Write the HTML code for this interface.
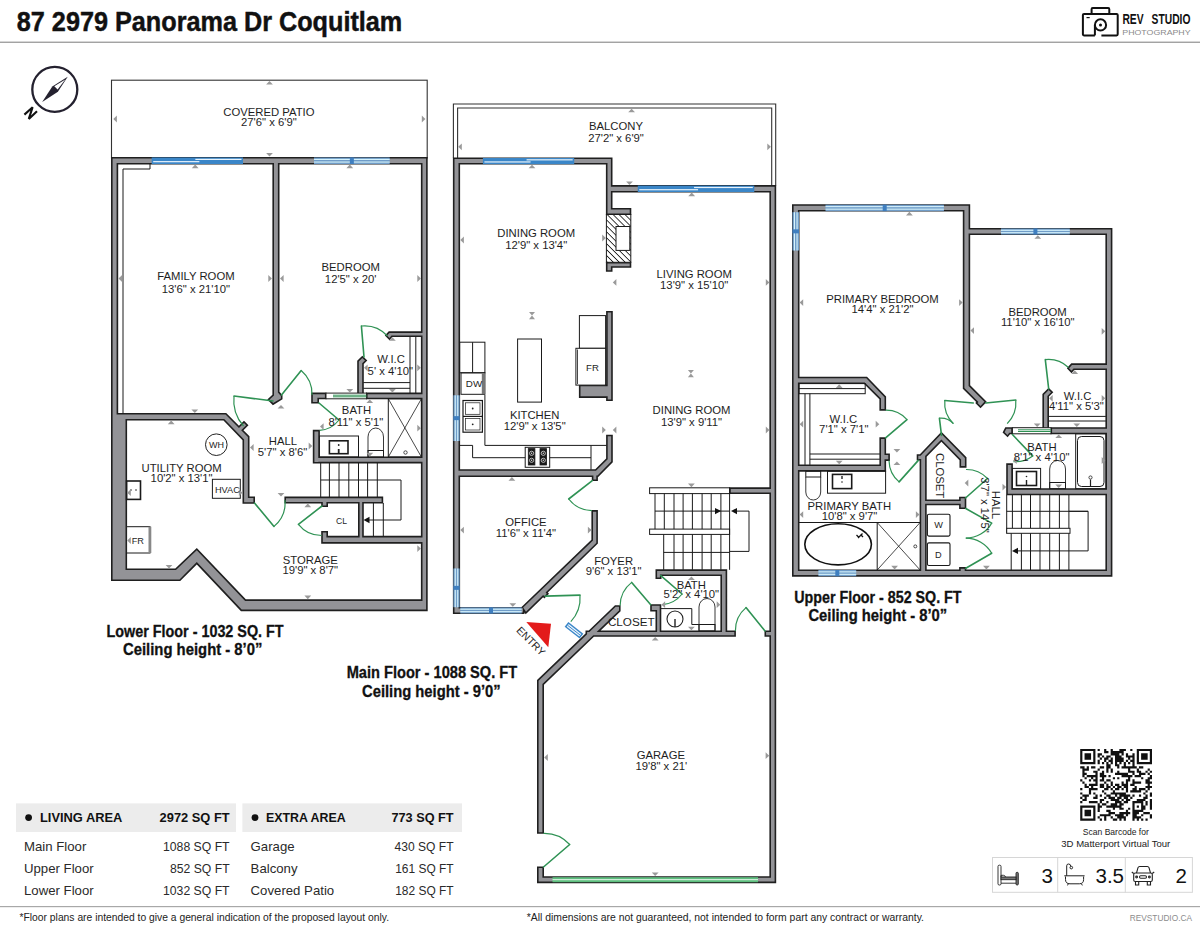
<!DOCTYPE html>
<html><head><meta charset="utf-8"><title>87 2979 Panorama Dr Coquitlam</title>
<style>
html,body{margin:0;padding:0;background:#fff;}
body{width:1200px;height:929px;position:relative;overflow:hidden;font-family:"Liberation Sans",sans-serif;}
</style></head><body>
<svg width="1200" height="929" viewBox="0 0 1200 929" style="position:absolute;left:0;top:0" font-family="Liberation Sans, sans-serif"><rect x="0" y="41.6" width="1200" height="1.3" fill="#9a9a9a"/><g transform="translate(0 0.8)"><g fill="none" stroke="#111" stroke-width="2" stroke-linejoin="round"><path d="M1091.6,12.3 V8.4 Q1091.6,7.3 1092.7,7.3 H1108.2 Q1109.3,7.3 1109.3,8.4 V12.3"/><path d="M1094.9,34.6 H1084 Q1082.9,34.6 1082.9,33.5 V14.2 Q1082.9,13.1 1084,13.1 H1116.6 Q1117.7,13.1 1117.7,14.2 V33.5 Q1117.7,34.6 1116.6,34.6 H1101.4"/><path d="M1094.9,34.6 V24.2"/><circle cx="1100.5" cy="24.1" r="5.6"/></g><circle cx="1100.5" cy="24.1" r="1.5" fill="#111"/><rect x="1086.5" y="16.2" width="3.2" height="1.2" fill="#111"/></g><circle cx="54.8" cy="89.4" r="22.5" fill="none" stroke="#24212f" stroke-width="2.3"/><polygon points="67.7,76.8 52.3,86.6 42.2,102 57.9,91.8" fill="#24212f"/><polygon points="65.3,79.4 54.3,86.3 57.6,89.6" fill="#fff"/><polyline points="24.4,114.6 32.6,107.2 28.8,118.9 37,111.2" fill="none" stroke="#111" stroke-width="2.1" stroke-linejoin="miter" stroke-miterlimit="3"/><rect x="111.5" y="80.2" width="315.7" height="77.8" rx="0" stroke="#333" stroke-width="1.1" fill="none"/><polyline points="453.4,158 453.4,104 775.7,104 775.7,185.6" stroke="#333" stroke-width="1.1" fill="none"/><polyline points="457.6,158 457.6,108 771.7,108 771.7,185.6" stroke="#333" stroke-width="1.1" fill="none"/><defs><pattern id="hatch" patternUnits="userSpaceOnUse" width="4.2" height="4.2" patternTransform="rotate(-45)"><rect width="4.2" height="4.2" fill="#fff"/><line x1="0" y1="0" x2="0" y2="4.2" stroke="#111" stroke-width="1.6"/></pattern></defs><rect x="16" y="803.4" width="220" height="28.6" fill="#ececec"/><rect x="242.4" y="803.4" width="219.6" height="28.6" fill="#ececec"/><circle cx="28.6" cy="817.6" r="3.4" fill="#111"/><circle cx="255" cy="817.6" r="3.4" fill="#111"/><rect x="0" y="906" width="1200" height="1.2" fill="#a8a8a8"/><path d="M1080.2,748.9h15.23v2.18h-15.23zM1097.61,748.9h2.18v2.18h-2.18zM1104.13,748.9h2.18v2.18h-2.18zM1110.66,748.9h2.18v2.18h-2.18zM1119.36,748.9h6.53v2.18h-6.53zM1130.24,748.9h2.18v2.18h-2.18zM1136.77,748.9h15.23v2.18h-15.23zM1080.2,751.08h2.18v2.18h-2.18zM1093.25,751.08h2.18v2.18h-2.18zM1104.13,751.08h4.35v2.18h-4.35zM1110.66,751.08h13.05v2.18h-13.05zM1136.77,751.08h2.18v2.18h-2.18zM1149.82,751.08h2.18v2.18h-2.18zM1080.2,753.25h2.18v2.18h-2.18zM1084.55,753.25h6.53v2.18h-6.53zM1093.25,753.25h2.18v2.18h-2.18zM1097.61,753.25h4.35v2.18h-4.35zM1110.66,753.25h8.7v2.18h-8.7zM1121.54,753.25h2.18v2.18h-2.18zM1125.89,753.25h2.18v2.18h-2.18zM1132.42,753.25h2.18v2.18h-2.18zM1136.77,753.25h2.18v2.18h-2.18zM1141.12,753.25h6.53v2.18h-6.53zM1149.82,753.25h2.18v2.18h-2.18zM1080.2,755.43h2.18v2.18h-2.18zM1084.55,755.43h6.53v2.18h-6.53zM1093.25,755.43h2.18v2.18h-2.18zM1097.61,755.43h2.18v2.18h-2.18zM1101.96,755.43h2.18v2.18h-2.18zM1106.31,755.43h4.35v2.18h-4.35zM1115.01,755.43h6.53v2.18h-6.53zM1125.89,755.43h8.7v2.18h-8.7zM1136.77,755.43h2.18v2.18h-2.18zM1141.12,755.43h6.53v2.18h-6.53zM1149.82,755.43h2.18v2.18h-2.18zM1080.2,757.6h2.18v2.18h-2.18zM1084.55,757.6h6.53v2.18h-6.53zM1093.25,757.6h2.18v2.18h-2.18zM1099.78,757.6h2.18v2.18h-2.18zM1104.13,757.6h4.35v2.18h-4.35zM1110.66,757.6h2.18v2.18h-2.18zM1115.01,757.6h8.7v2.18h-8.7zM1128.07,757.6h2.18v2.18h-2.18zM1132.42,757.6h2.18v2.18h-2.18zM1136.77,757.6h2.18v2.18h-2.18zM1141.12,757.6h6.53v2.18h-6.53zM1149.82,757.6h2.18v2.18h-2.18zM1080.2,759.78h2.18v2.18h-2.18zM1093.25,759.78h2.18v2.18h-2.18zM1097.61,759.78h2.18v2.18h-2.18zM1104.13,759.78h2.18v2.18h-2.18zM1108.48,759.78h4.35v2.18h-4.35zM1115.01,759.78h8.7v2.18h-8.7zM1125.89,759.78h2.18v2.18h-2.18zM1130.24,759.78h4.35v2.18h-4.35zM1136.77,759.78h2.18v2.18h-2.18zM1149.82,759.78h2.18v2.18h-2.18zM1080.2,761.95h15.23v2.18h-15.23zM1097.61,761.95h2.18v2.18h-2.18zM1101.96,761.95h2.18v2.18h-2.18zM1106.31,761.95h2.18v2.18h-2.18zM1110.66,761.95h2.18v2.18h-2.18zM1115.01,761.95h2.18v2.18h-2.18zM1119.36,761.95h2.18v2.18h-2.18zM1123.72,761.95h2.18v2.18h-2.18zM1128.07,761.95h2.18v2.18h-2.18zM1132.42,761.95h2.18v2.18h-2.18zM1136.77,761.95h15.23v2.18h-15.23zM1106.31,764.13h4.35v2.18h-4.35zM1115.01,764.13h4.35v2.18h-4.35zM1123.72,764.13h2.18v2.18h-2.18zM1132.42,764.13h2.18v2.18h-2.18zM1080.2,766.31h4.35v2.18h-4.35zM1086.73,766.31h2.18v2.18h-2.18zM1091.08,766.31h4.35v2.18h-4.35zM1099.78,766.31h4.35v2.18h-4.35zM1106.31,766.31h4.35v2.18h-4.35zM1117.19,766.31h2.18v2.18h-2.18zM1121.54,766.31h15.23v2.18h-15.23zM1138.95,766.31h4.35v2.18h-4.35zM1082.38,768.48h6.53v2.18h-6.53zM1097.61,768.48h2.18v2.18h-2.18zM1106.31,768.48h2.18v2.18h-2.18zM1110.66,768.48h2.18v2.18h-2.18zM1128.07,768.48h2.18v2.18h-2.18zM1136.77,768.48h2.18v2.18h-2.18zM1147.65,768.48h2.18v2.18h-2.18zM1082.38,770.66h2.18v2.18h-2.18zM1093.25,770.66h4.35v2.18h-4.35zM1101.96,770.66h2.18v2.18h-2.18zM1106.31,770.66h2.18v2.18h-2.18zM1110.66,770.66h2.18v2.18h-2.18zM1117.19,770.66h2.18v2.18h-2.18zM1128.07,770.66h6.53v2.18h-6.53zM1136.77,770.66h4.35v2.18h-4.35zM1145.47,770.66h2.18v2.18h-2.18zM1149.82,770.66h2.18v2.18h-2.18zM1082.38,772.83h4.35v2.18h-4.35zM1095.43,772.83h2.18v2.18h-2.18zM1099.78,772.83h4.35v2.18h-4.35zM1115.01,772.83h13.05v2.18h-13.05zM1132.42,772.83h2.18v2.18h-2.18zM1138.95,772.83h6.53v2.18h-6.53zM1147.65,772.83h2.18v2.18h-2.18zM1082.38,775.01h2.18v2.18h-2.18zM1086.73,775.01h10.88v2.18h-10.88zM1099.78,775.01h6.53v2.18h-6.53zM1108.48,775.01h2.18v2.18h-2.18zM1121.54,775.01h10.88v2.18h-10.88zM1134.59,775.01h6.53v2.18h-6.53zM1149.82,775.01h2.18v2.18h-2.18zM1084.55,777.18h2.18v2.18h-2.18zM1091.08,777.18h2.18v2.18h-2.18zM1095.43,777.18h2.18v2.18h-2.18zM1101.96,777.18h2.18v2.18h-2.18zM1112.84,777.18h2.18v2.18h-2.18zM1117.19,777.18h2.18v2.18h-2.18zM1128.07,777.18h2.18v2.18h-2.18zM1141.12,777.18h2.18v2.18h-2.18zM1147.65,777.18h4.35v2.18h-4.35zM1080.2,779.36h2.18v2.18h-2.18zM1088.9,779.36h2.18v2.18h-2.18zM1093.25,779.36h4.35v2.18h-4.35zM1099.78,779.36h4.35v2.18h-4.35zM1106.31,779.36h4.35v2.18h-4.35zM1125.89,779.36h4.35v2.18h-4.35zM1132.42,779.36h2.18v2.18h-2.18zM1145.47,779.36h4.35v2.18h-4.35zM1082.38,781.54h2.18v2.18h-2.18zM1095.43,781.54h2.18v2.18h-2.18zM1104.13,781.54h2.18v2.18h-2.18zM1110.66,781.54h2.18v2.18h-2.18zM1121.54,781.54h2.18v2.18h-2.18zM1125.89,781.54h2.18v2.18h-2.18zM1132.42,781.54h8.7v2.18h-8.7zM1145.47,781.54h6.53v2.18h-6.53zM1084.55,783.71h2.18v2.18h-2.18zM1088.9,783.71h8.7v2.18h-8.7zM1099.78,783.71h4.35v2.18h-4.35zM1106.31,783.71h2.18v2.18h-2.18zM1110.66,783.71h2.18v2.18h-2.18zM1115.01,783.71h4.35v2.18h-4.35zM1121.54,783.71h6.53v2.18h-6.53zM1130.24,783.71h4.35v2.18h-4.35zM1147.65,783.71h2.18v2.18h-2.18zM1084.55,785.89h4.35v2.18h-4.35zM1091.08,785.89h2.18v2.18h-2.18zM1099.78,785.89h4.35v2.18h-4.35zM1106.31,785.89h4.35v2.18h-4.35zM1112.84,785.89h2.18v2.18h-2.18zM1117.19,785.89h4.35v2.18h-4.35zM1123.72,785.89h4.35v2.18h-4.35zM1134.59,785.89h2.18v2.18h-2.18zM1145.47,785.89h6.53v2.18h-6.53zM1080.2,788.06h2.18v2.18h-2.18zM1088.9,788.06h8.7v2.18h-8.7zM1104.13,788.06h4.35v2.18h-4.35zM1110.66,788.06h2.18v2.18h-2.18zM1115.01,788.06h4.35v2.18h-4.35zM1121.54,788.06h2.18v2.18h-2.18zM1125.89,788.06h2.18v2.18h-2.18zM1132.42,788.06h4.35v2.18h-4.35zM1138.95,788.06h6.53v2.18h-6.53zM1147.65,788.06h2.18v2.18h-2.18zM1088.9,790.24h2.18v2.18h-2.18zM1101.96,790.24h2.18v2.18h-2.18zM1112.84,790.24h2.18v2.18h-2.18zM1125.89,790.24h2.18v2.18h-2.18zM1130.24,790.24h10.88v2.18h-10.88zM1145.47,790.24h2.18v2.18h-2.18zM1080.2,792.42h2.18v2.18h-2.18zM1088.9,792.42h2.18v2.18h-2.18zM1093.25,792.42h2.18v2.18h-2.18zM1104.13,792.42h2.18v2.18h-2.18zM1110.66,792.42h15.23v2.18h-15.23zM1143.3,792.42h2.18v2.18h-2.18zM1149.82,792.42h2.18v2.18h-2.18zM1082.38,794.59h6.53v2.18h-6.53zM1095.43,794.59h2.18v2.18h-2.18zM1099.78,794.59h2.18v2.18h-2.18zM1106.31,794.59h4.35v2.18h-4.35zM1115.01,794.59h2.18v2.18h-2.18zM1119.36,794.59h10.88v2.18h-10.88zM1132.42,794.59h2.18v2.18h-2.18zM1138.95,794.59h2.18v2.18h-2.18zM1145.47,794.59h2.18v2.18h-2.18zM1149.82,794.59h2.18v2.18h-2.18zM1080.2,796.77h2.18v2.18h-2.18zM1084.55,796.77h2.18v2.18h-2.18zM1093.25,796.77h4.35v2.18h-4.35zM1104.13,796.77h2.18v2.18h-2.18zM1108.48,796.77h6.53v2.18h-6.53zM1117.19,796.77h4.35v2.18h-4.35zM1123.72,796.77h4.35v2.18h-4.35zM1130.24,796.77h2.18v2.18h-2.18zM1143.3,796.77h4.35v2.18h-4.35zM1082.38,798.94h4.35v2.18h-4.35zM1099.78,798.94h4.35v2.18h-4.35zM1110.66,798.94h8.7v2.18h-8.7zM1121.54,798.94h2.18v2.18h-2.18zM1125.89,798.94h4.35v2.18h-4.35zM1136.77,798.94h8.7v2.18h-8.7zM1149.82,798.94h2.18v2.18h-2.18zM1080.2,801.12h2.18v2.18h-2.18zM1088.9,801.12h8.7v2.18h-8.7zM1099.78,801.12h2.18v2.18h-2.18zM1106.31,801.12h2.18v2.18h-2.18zM1115.01,801.12h6.53v2.18h-6.53zM1123.72,801.12h4.35v2.18h-4.35zM1132.42,801.12h10.88v2.18h-10.88zM1145.47,801.12h2.18v2.18h-2.18zM1149.82,801.12h2.18v2.18h-2.18zM1097.61,803.29h2.18v2.18h-2.18zM1101.96,803.29h4.35v2.18h-4.35zM1110.66,803.29h6.53v2.18h-6.53zM1119.36,803.29h4.35v2.18h-4.35zM1132.42,803.29h2.18v2.18h-2.18zM1141.12,803.29h2.18v2.18h-2.18zM1145.47,803.29h2.18v2.18h-2.18zM1149.82,803.29h2.18v2.18h-2.18zM1080.2,805.47h15.23v2.18h-15.23zM1097.61,805.47h4.35v2.18h-4.35zM1106.31,805.47h15.23v2.18h-15.23zM1132.42,805.47h2.18v2.18h-2.18zM1136.77,805.47h2.18v2.18h-2.18zM1141.12,805.47h4.35v2.18h-4.35zM1149.82,805.47h2.18v2.18h-2.18zM1080.2,807.65h2.18v2.18h-2.18zM1093.25,807.65h2.18v2.18h-2.18zM1097.61,807.65h2.18v2.18h-2.18zM1112.84,807.65h2.18v2.18h-2.18zM1119.36,807.65h4.35v2.18h-4.35zM1128.07,807.65h2.18v2.18h-2.18zM1132.42,807.65h2.18v2.18h-2.18zM1141.12,807.65h4.35v2.18h-4.35zM1149.82,807.65h2.18v2.18h-2.18zM1080.2,809.82h2.18v2.18h-2.18zM1084.55,809.82h6.53v2.18h-6.53zM1093.25,809.82h2.18v2.18h-2.18zM1097.61,809.82h2.18v2.18h-2.18zM1106.31,809.82h4.35v2.18h-4.35zM1125.89,809.82h2.18v2.18h-2.18zM1132.42,809.82h10.88v2.18h-10.88zM1080.2,812h2.18v2.18h-2.18zM1084.55,812h6.53v2.18h-6.53zM1093.25,812h2.18v2.18h-2.18zM1108.48,812h6.53v2.18h-6.53zM1119.36,812h10.88v2.18h-10.88zM1132.42,812h6.53v2.18h-6.53zM1143.3,812h6.53v2.18h-6.53zM1080.2,814.17h2.18v2.18h-2.18zM1084.55,814.17h6.53v2.18h-6.53zM1093.25,814.17h2.18v2.18h-2.18zM1099.78,814.17h10.88v2.18h-10.88zM1115.01,814.17h8.7v2.18h-8.7zM1125.89,814.17h2.18v2.18h-2.18zM1132.42,814.17h4.35v2.18h-4.35zM1141.12,814.17h2.18v2.18h-2.18zM1149.82,814.17h2.18v2.18h-2.18zM1080.2,816.35h2.18v2.18h-2.18zM1093.25,816.35h2.18v2.18h-2.18zM1097.61,816.35h2.18v2.18h-2.18zM1104.13,816.35h2.18v2.18h-2.18zM1110.66,816.35h2.18v2.18h-2.18zM1117.19,816.35h8.7v2.18h-8.7zM1132.42,816.35h8.7v2.18h-8.7zM1149.82,816.35h2.18v2.18h-2.18zM1080.2,818.52h15.23v2.18h-15.23zM1099.78,818.52h2.18v2.18h-2.18zM1104.13,818.52h2.18v2.18h-2.18zM1112.84,818.52h4.35v2.18h-4.35zM1119.36,818.52h2.18v2.18h-2.18zM1123.72,818.52h2.18v2.18h-2.18zM1132.42,818.52h2.18v2.18h-2.18zM1136.77,818.52h2.18v2.18h-2.18zM1141.12,818.52h2.18v2.18h-2.18zM1145.47,818.52h2.18v2.18h-2.18z" fill="#111"/><rect x="992.5" y="857.5" width="199.9" height="34.8" fill="none" stroke="#d6d6d6" stroke-width="1"/><line x1="1057.7" y1="857.5" x2="1057.7" y2="892.3" stroke="#d6d6d6" stroke-width="1"/><line x1="1125.3" y1="857.5" x2="1125.3" y2="892.3" stroke="#d6d6d6" stroke-width="1"/><g fill="none" stroke="#222" stroke-width="0.9"><rect x="998" y="865.2" width="3" height="19.8" rx="1.2"/><rect x="1016" y="872.3" width="2.3" height="12.7" rx="1" fill="#777"/><rect x="1001" y="877" width="15" height="2.7" fill="#777"/><line x1="1001" y1="883.2" x2="1016" y2="883.2"/><path d="M1001,877 v-1.7 h2.5 q1.5,0 2,1.7"/></g><g fill="none" stroke="#222" stroke-width="1"><path d="M1064.3,875.8 h20.3 M1065.5,876.5 v3 q0,4.3 4.5,4.3 h9.3 q4.3,0 4.3,-4.3 v-3"/><path d="M1066.7,875.8 v-10 q0,-1.8 1.8,-1.8 q2.2,0 2.2,2.2"/><path d="M1068.3,883.8 l-0.8,1.6 M1081.5,883.8 l0.8,1.6"/><circle cx="1071.3" cy="867.6" r="1.3"/></g><g fill="none" stroke="#222" stroke-width="1.1"><path d="M1136.5,873 l1.5,-5.3 q0.4,-1.2 1.7,-1.2 h7.6 q1.3,0 1.7,1.2 l1.5,5.3"/><rect x="1133.7" y="873" width="18.6" height="8.5" rx="1.5"/><path d="M1135.5,881.5 v3.5 h3.2 v-3.5 M1147.3,881.5 v3.5 h3.2 v-3.5"/><rect x="1139.5" y="875.8" width="7" height="2.4" rx="1.2"/><circle cx="1136.6" cy="877" r="0.9"/><circle cx="1149.4" cy="877" r="0.9"/><line x1="1131.8" y1="872" x2="1133.7" y2="873.5"/><line x1="1154.2" y1="872" x2="1152.3" y2="873.5"/></g><path d="M970.2,228 L970.2,204.2 L792,204.2 L792,576.7 L1112.4,576.7 L1112.4,228ZM970.2,385.29 L970.2,235 L1105.4,235 L1105.4,363.3 L1071.28,363.3 L1066.82,368.21 L1071.51,373.14 L1074.22,370.1 L1105.4,370.1 L1105.4,427.2 L1050.5,427.2 L1050.5,434.3 L1105.4,434.3 L1105.4,488.2 L1012.9,488.2 L1012.9,463.3 L1006.2,463.3 L1006.2,495.3 L1105.4,495.3 L1105.4,569.5 L966.3,569.5 L966.3,567.1 L959.1,567.1 L959.1,569.5 L926.7,569.5 L926.7,505.3 L959.1,505.3 L959.1,509 L966.3,509 L966.3,496.7 L959.1,496.7 L959.1,499.5 L926.7,499.5 L926.7,456.7 L941.4,441.71 L959.5,460.2 L959.5,467.7 L966.5,467.7 L966.5,457.3 L941.4,431.78 L919.89,454.2 L916.7,454.2 L916.7,460.5 L919.6,460.5 L919.6,569.5 L799.5,569.5 L799.5,471.7 L886.1,471.7 L886.1,460.9 L889.9,460.9 L889.9,453.5 L886.1,453.5 L886.1,437.3 L879.4,437.3 L879.4,464.4 L799.5,464.4 L799.5,384.1 L864.09,384.1 L879.4,399.21 L879.4,410.7 L886.1,410.7 L886.1,396.5 L867.01,376.7 L799.5,376.7 L799.5,211.6 L962.8,211.6 L962.8,388.71 L976.19,402.1 L975.29,403 L980.5,408.21 L984.71,404 L984.61,403.9 L986.71,401.8ZM1042.4,430.5 L1049,430.5 L1049,396.61 L1053.31,392.3 L1048.7,387.69 L1042.4,393.99ZM1005.29,427.2 L1002.59,432.5 L1007.65,437.34 L1010.04,434.3 L1012.9,434.3 L1012.9,427.2ZM452.9,614 L524.5,614 L524.5,612.46 L525.72,614.28 L543.14,597.23 L544.29,598.41 L549.01,593.81 L547.84,592.62 L597.9,543.61 L597.9,510.1 L591.4,510.1 L591.4,539.79 L521.5,606.9 L460.1,606.9 L460.1,477 L591.8,477 L591.8,481.1 L597.9,481.1 L597.9,477 L598.21,477 L612.8,462.21 L612.8,434.7 L606.1,434.7 L606.1,458.59 L595.3,469.2 L460.1,469.2 L460.1,164.6 L605.9,164.6 L605.9,215 L631.3,215 L631.3,208 L612.5,208 L612.5,192.5 L769.4,192.5 L769.4,487.3 L729.1,487.3 L729.1,494.1 L769.4,494.1 L769.4,630.4 L764.5,630.4 L764.5,636.8 L769.4,636.8 L769.4,876.2 L544,876.2 L544,866.5 L537,866.5 L537,883.2 L776.2,883.2 L776.2,185.1 L612.5,185.1 L612.5,157.5 L452.9,157.5ZM720.4,630.4 L661.3,630.4 L661.3,604.2 L650.2,604.2 L650.2,611.5 L655.5,611.5 L655.5,630.4 L600.6,630.4 L620.6,611.21 L620.6,605.2 L615,605.2 L588.75,630.4 L585.5,630.4 L585.5,633.52 L537,680.09 L537,833.8 L544,833.8 L544,684.71 L593.93,636.8 L735.9,636.8 L735.9,630.4 L727.2,630.4 L727.2,569.3 L655.5,569.3 L655.5,579 L661.5,579 L661.5,576.1 L720.4,576.1ZM605.9,271.8 L612.5,271.8 L612.5,267.8 L631.3,267.8 L631.3,261.8 L605.9,261.8ZM606.1,311 L606.1,384.6 L578.9,384.6 L578.9,397.9 L606.1,397.9 L606.1,401 L612.8,401 L612.8,311ZM427.7,157 L111,157 L111,581 L180.21,581 L196.79,564.42 L240.98,611.2 L427.7,611.2ZM282.5,399.28 L282.5,395.32 L279.5,391.82 L279.5,164.5 L420.9,164.5 L420.9,331.3 L388.78,331.3 L384.8,335.51 L389.53,340.23 L392.23,337.1 L420.9,337.1 L420.9,392.6 L366,392.6 L366,399.3 L420.9,399.3 L420.9,456.5 L319.9,456.5 L319.9,429.8 L312.8,429.8 L312.8,463.5 L319.9,463.5 L319.9,463.4 L420.9,463.4 L420.9,535.8 L363.8,535.8 L363.8,503.5 L383.2,503.5 L383.2,496.6 L284.4,496.6 L284.4,503.5 L321.2,503.5 L321.2,507 L328,507 L328,503.5 L358,503.5 L358,535.8 L328,535.8 L328,531 L321.2,531 L321.2,543.7 L420.9,543.7 L420.9,599.3 L245.81,599.3 L196.82,547.89 L175.3,568.5 L127.1,568.5 L127.1,420.5 L223.49,420.5 L242.5,440.2 L242.5,503.8 L255,503.8 L255,496.5 L249.5,496.5 L249.5,436.29 L243.46,430.25 L248.51,425.2 L244,420.69 L238.95,425.74 L226.21,413 L118.2,413 L118.2,164.5 L272.4,164.5 L272.4,394.78 L267.28,399.48 L272.92,405.13ZM357.2,394.5 L363.8,394.5 L363.8,364.01 L367.32,360.6 L362.3,355.7 L357.2,360.79ZM311.2,403.5 L319,403.5 L319,399.3 L326.5,399.3 L326.5,392.6 L311.2,392.6Z" fill="#1f1f1f" fill-rule="evenodd"/><path d="M968.6,229.6 L968.6,205.8 L793.6,205.8 L793.6,575.1 L1110.8,575.1 L1110.8,229.6ZM968.6,385.96 L968.6,233.4 L1107,233.4 L1107,364.9 L1071.99,364.9 L1069,368.18 L1071.47,370.78 L1073.51,368.5 L1107,368.5 L1107,428.8 L1052.1,428.8 L1052.1,432.7 L1107,432.7 L1107,489.8 L1011.3,489.8 L1011.3,464.9 L1007.8,464.9 L1007.8,493.7 L1107,493.7 L1107,571.1 L964.7,571.1 L964.7,568.7 L960.7,568.7 L960.7,571.1 L925.1,571.1 L925.1,503.7 L960.7,503.7 L960.7,507.4 L964.7,507.4 L964.7,498.3 L960.7,498.3 L960.7,501.1 L925.1,501.1 L925.1,456.05 L941.4,439.43 L961.1,459.55 L961.1,466.1 L964.9,466.1 L964.9,457.95 L941.41,434.08 L920.57,455.8 L918.3,455.8 L918.3,458.9 L921.2,458.9 L921.2,571.1 L797.9,571.1 L797.9,470.1 L884.5,470.1 L884.5,459.3 L888.3,459.3 L888.3,455.1 L884.5,455.1 L884.5,438.9 L881,438.9 L881,466 L797.9,466 L797.9,382.5 L864.75,382.5 L881,398.54 L881,409.1 L884.5,409.1 L884.5,397.14 L866.33,378.3 L797.9,378.3 L797.9,210 L964.4,210 L964.4,388.04 L978.46,402.1 L977.56,403 L980.5,405.94 L982.44,404 L982.34,403.9 L984.44,401.8ZM1044,428.9 L1047.4,428.9 L1047.4,395.94 L1051.04,392.3 L1048.7,389.96 L1044,394.66ZM1006.27,428.8 L1004.55,432.17 L1007.48,434.97 L1009.27,432.7 L1011.3,432.7 L1011.3,428.8ZM454.5,612.4 L522.9,612.4 L522.9,607.77 L522.14,608.5 L458.5,608.5 L458.5,475.4 L593.4,475.4 L593.4,479.5 L596.3,479.5 L596.3,475.4 L597.54,475.4 L611.2,461.55 L611.2,436.3 L607.7,436.3 L607.7,459.26 L595.95,470.8 L458.5,470.8 L458.5,163 L607.5,163 L607.5,213.4 L629.7,213.4 L629.7,209.6 L610.9,209.6 L610.9,190.9 L771,190.9 L771,488.9 L730.7,488.9 L730.7,492.5 L771,492.5 L771,632 L766.1,632 L766.1,635.2 L771,635.2 L771,877.8 L542.4,877.8 L542.4,868.1 L538.6,868.1 L538.6,881.6 L774.6,881.6 L774.6,186.7 L610.9,186.7 L610.9,159.1 L454.5,159.1ZM523.13,607.55 L525.98,611.79 L543.16,594.96 L544.32,596.14 L546.74,593.78 L545.58,592.59 L596.3,542.94 L596.3,511.7 L593,511.7 L593,540.47ZM722,632 L659.7,632 L659.7,605.8 L651.8,605.8 L651.8,609.9 L657.1,609.9 L657.1,632 L596.63,632 L619,610.53 L619,606.8 L615.64,606.8 L589.4,632 L587.1,632 L587.1,634.2 L538.6,680.77 L538.6,832.2 L542.4,832.2 L542.4,684.03 L593.29,635.2 L734.3,635.2 L734.3,632 L725.6,632 L725.6,570.9 L657.1,570.9 L657.1,577.4 L659.9,577.4 L659.9,574.5 L722,574.5ZM607.5,270.2 L610.9,270.2 L610.9,266.2 L629.7,266.2 L629.7,263.4 L607.5,263.4ZM607.7,312.6 L607.7,386.2 L580.5,386.2 L580.5,396.3 L607.7,396.3 L607.7,399.4 L611.2,399.4 L611.2,312.6ZM426.1,158.6 L112.6,158.6 L112.6,579.4 L179.54,579.4 L196.82,562.12 L241.67,609.6 L426.1,609.6ZM280.9,398.38 L280.9,395.91 L277.9,392.41 L277.9,162.9 L422.5,162.9 L422.5,332.9 L389.47,332.9 L387.03,335.48 L389.44,337.88 L391.5,335.5 L422.5,335.5 L422.5,394.2 L367.6,394.2 L367.6,397.7 L422.5,397.7 L422.5,458.1 L318.3,458.1 L318.3,431.4 L314.4,431.4 L314.4,461.9 L318.3,461.9 L318.3,461.8 L422.5,461.8 L422.5,537.4 L362.2,537.4 L362.2,501.9 L381.6,501.9 L381.6,498.2 L286,498.2 L286,501.9 L322.8,501.9 L322.8,505.4 L326.4,505.4 L326.4,501.9 L359.6,501.9 L359.6,537.4 L326.4,537.4 L326.4,532.6 L322.8,532.6 L322.8,542.1 L422.5,542.1 L422.5,600.9 L245.13,600.9 L196.76,550.16 L175.94,570.1 L125.5,570.1 L125.5,418.9 L224.17,418.9 L244.1,439.56 L244.1,502.2 L253.4,502.2 L253.4,498.1 L247.9,498.1 L247.9,436.96 L241.19,430.25 L246.24,425.2 L244,422.96 L238.95,428.01 L225.54,414.6 L116.6,414.6 L116.6,162.9 L274,162.9 L274,395.48 L269.59,399.53 L273.17,403.11ZM358.8,392.9 L362.2,392.9 L362.2,363.33 L365.02,360.6 L362.31,357.95 L358.8,361.46ZM312.8,401.9 L317.4,401.9 L317.4,397.7 L324.9,397.7 L324.9,394.2 L312.8,394.2Z" fill="#939397" fill-rule="evenodd"/><rect x="151.7" y="157.5" width="91.3" height="6.5" fill="#3a86c8"/><rect x="153.2" y="161.07" width="46.15" height="1.2" rx="0" stroke="none" stroke-width="1" fill="#e8f3fb"/><rect x="195.35" y="158.8" width="46.15" height="1.2" rx="0" stroke="none" stroke-width="1" fill="#e8f3fb"/><rect x="314" y="157.5" width="75.7" height="6.5" fill="#6f9cc8"/><rect x="314" y="158.9" width="75.7" height="1.1" rx="0" stroke="none" stroke-width="1" fill="#d6f3fc"/><rect x="314" y="161.5" width="75.7" height="1.1" rx="0" stroke="none" stroke-width="1" fill="#d6f3fc"/><rect x="349.85" y="157.5" width="4" height="6.5" rx="0" stroke="none" stroke-width="1" fill="#3f7fc0"/><rect x="326" y="393.1" width="40.5" height="5.7" rx="0" stroke="#222" stroke-width="1" fill="#fff"/><line x1="333" y1="395.2" x2="366.5" y2="395.2" stroke="#2f9254" stroke-width="1"/><line x1="333" y1="396.8" x2="366.5" y2="396.8" stroke="#2f9254" stroke-width="1"/><polyline points="123,413.5 123,169 150,169 150,164" stroke="#1a1a1a" stroke-width="1" fill="none"/><line x1="363.3" y1="382.6" x2="410" y2="382.6" stroke="#1a1a1a" stroke-width="1"/><line x1="363.3" y1="388.3" x2="410" y2="388.3" stroke="#1a1a1a" stroke-width="1"/><line x1="410" y1="336.6" x2="410" y2="393.1" stroke="#1a1a1a" stroke-width="1"/><line x1="415.8" y1="336.6" x2="415.8" y2="393.1" stroke="#1a1a1a" stroke-width="1"/><rect x="319.4" y="436" width="39.1" height="21" rx="0" stroke="#1a1a1a" stroke-width="1" fill="none"/><rect x="329.4" y="440.8" width="18.6" height="12.9" rx="0" stroke="#1a1a1a" stroke-width="1.6" fill="none"/><circle cx="338.7" cy="445" r="0.9" fill="#222"/><rect x="337.8" y="449" width="1.8" height="4" fill="#222"/><path d="M368,457 V437 A7.75,9 0 0 1 383.5,437 V457" fill="none" stroke="#222" stroke-width="0.9"/><rect x="368" y="450.5" width="15.5" height="6.5" rx="0" stroke="#1a1a1a" stroke-width="1" fill="none"/><rect x="388.3" y="398.8" width="33.1" height="58.2" rx="0" stroke="#1a1a1a" stroke-width="1" fill="none"/><line x1="388.3" y1="398.8" x2="421.4" y2="457" stroke="#1a1a1a" stroke-width="0.8"/><line x1="421.4" y1="398.8" x2="388.3" y2="457" stroke="#1a1a1a" stroke-width="0.8"/><circle cx="405.5" cy="452.5" r="1.7" fill="none" stroke="#222" stroke-width="0.8"/><line x1="320.7" y1="462.9" x2="320.7" y2="497.1" stroke="#1a1a1a" stroke-width="1"/><line x1="329.4" y1="462.9" x2="329.4" y2="497.1" stroke="#1a1a1a" stroke-width="1"/><line x1="339" y1="462.9" x2="339" y2="497.1" stroke="#1a1a1a" stroke-width="1"/><line x1="348.8" y1="462.9" x2="348.8" y2="497.1" stroke="#1a1a1a" stroke-width="1"/><line x1="358.5" y1="462.9" x2="358.5" y2="497.1" stroke="#1a1a1a" stroke-width="1"/><line x1="367.6" y1="462.9" x2="367.6" y2="497.1" stroke="#1a1a1a" stroke-width="1"/><line x1="377.3" y1="462.9" x2="377.3" y2="497.1" stroke="#1a1a1a" stroke-width="1"/><polyline points="320.7,480 401,480 401,520 368,520" stroke="#1a1a1a" stroke-width="1" fill="none"/><polygon points="363.5,520 369.5,516.8 369.5,523.2" fill="#111"/><line x1="373.4" y1="503" x2="373.4" y2="536.3" stroke="#1a1a1a" stroke-width="1"/><line x1="383.3" y1="503" x2="383.3" y2="536.3" stroke="#1a1a1a" stroke-width="1"/><circle cx="216.3" cy="444.7" r="10.8" fill="#fff" stroke="#222" stroke-width="1"/><rect x="212.4" y="479.3" width="27.9" height="19" rx="0" stroke="#1a1a1a" stroke-width="1" fill="#fff"/><rect x="126.6" y="481" width="13.9" height="18.4" rx="0" stroke="#1a1a1a" stroke-width="1.6" fill="none"/><circle cx="131" cy="490" r="0.8" fill="#222"/><circle cx="136" cy="490" r="0.8" fill="#222"/><rect x="126.6" y="526.7" width="23.4" height="26.3" rx="0" stroke="#1a1a1a" stroke-width="1" fill="#fff"/><rect x="148.5" y="526.7" width="2.8" height="26.3" fill="#888"/><path d="M273,401 L234,396" stroke="#2f9254" stroke-width="1.6" fill="none" stroke-linecap="round"/><path d="M234,396 A38.99,38.99 0 0 0 243.5,426" stroke="#2f9254" stroke-width="1.2" fill="none"/><path d="M281.5,395 L301.2,370.5" stroke="#2f9254" stroke-width="1.6" fill="none" stroke-linecap="round"/><path d="M301.2,370.5 A30.97,30.97 0 0 1 312,395" stroke="#2f9254" stroke-width="1.2" fill="none"/><path d="M319,403 L339,420" stroke="#2f9254" stroke-width="1.6" fill="none" stroke-linecap="round"/><path d="M339,420 A26.78,26.78 0 0 1 319.7,430.3" stroke="#2f9254" stroke-width="1.2" fill="none"/><path d="M364,357 L361.4,326" stroke="#2f9254" stroke-width="1.6" fill="none" stroke-linecap="round"/><path d="M361.4,326 A31.31,31.31 0 0 1 387.5,336" stroke="#2f9254" stroke-width="1.2" fill="none"/><path d="M254.5,503 L274,526.4" stroke="#2f9254" stroke-width="1.6" fill="none" stroke-linecap="round"/><path d="M274,526.4 A30.5,30.5 0 0 0 284.9,500" stroke="#2f9254" stroke-width="1.2" fill="none"/><path d="M322,506 L298.4,524.3" stroke="#2f9254" stroke-width="1.6" fill="none" stroke-linecap="round"/><path d="M298.4,524.3 A29.68,29.68 0 0 0 321.7,535.5" stroke="#2f9254" stroke-width="1.2" fill="none"/><rect x="606.4" y="214.5" width="24.4" height="47.8" rx="0" stroke="#1a1a1a" stroke-width="1" fill="url(#hatch)"/><rect x="616" y="226.5" width="13.8" height="23.9" rx="0" stroke="#1a1a1a" stroke-width="1" fill="#fff"/><rect x="482.9" y="158" width="91.3" height="6.1" fill="#3a86c8"/><rect x="484.4" y="161.35" width="46.15" height="1.2" rx="0" stroke="none" stroke-width="1" fill="#e8f3fb"/><rect x="526.55" y="159.22" width="46.15" height="1.2" rx="0" stroke="none" stroke-width="1" fill="#e8f3fb"/><rect x="637.8" y="185.6" width="116.5" height="6.4" fill="#3a86c8"/><rect x="639.3" y="189.12" width="58.75" height="1.2" rx="0" stroke="none" stroke-width="1" fill="#e8f3fb"/><rect x="694.05" y="186.88" width="58.75" height="1.2" rx="0" stroke="none" stroke-width="1" fill="#e8f3fb"/><rect x="453.4" y="395.3" width="6.2" height="45.7" fill="#6f9cc8"/><rect x="454.71" y="395.3" width="1.1" height="45.7" rx="0" stroke="none" stroke-width="1" fill="#d6f3fc"/><rect x="457.19" y="395.3" width="1.1" height="45.7" rx="0" stroke="none" stroke-width="1" fill="#d6f3fc"/><rect x="453.4" y="416.15" width="6.2" height="4" rx="0" stroke="none" stroke-width="1" fill="#3f7fc0"/><rect x="453.4" y="568.5" width="6.2" height="38.7" fill="#6f9cc8"/><rect x="454.71" y="568.5" width="1.1" height="38.7" rx="0" stroke="none" stroke-width="1" fill="#d6f3fc"/><rect x="457.19" y="568.5" width="1.1" height="38.7" rx="0" stroke="none" stroke-width="1" fill="#d6f3fc"/><rect x="453.4" y="585.85" width="6.2" height="4" rx="0" stroke="none" stroke-width="1" fill="#3f7fc0"/><rect x="460.3" y="607.4" width="61.4" height="6.1" fill="#6f9cc8"/><rect x="460.3" y="608.68" width="61.4" height="1.1" rx="0" stroke="none" stroke-width="1" fill="#d6f3fc"/><rect x="460.3" y="611.12" width="61.4" height="1.1" rx="0" stroke="none" stroke-width="1" fill="#d6f3fc"/><rect x="489" y="607.4" width="4" height="6.1" rx="0" stroke="none" stroke-width="1" fill="#3f7fc0"/><rect x="649.6" y="487.8" width="80" height="5.8" rx="0" stroke="#1a1a1a" stroke-width="1" fill="#fff"/><rect x="649.6" y="529.1" width="80" height="5.3" rx="0" stroke="#1a1a1a" stroke-width="1" fill="#fff"/><line x1="655" y1="493.6" x2="655" y2="529.1" stroke="#1a1a1a" stroke-width="1"/><line x1="664.3" y1="493.6" x2="664.3" y2="529.1" stroke="#1a1a1a" stroke-width="1"/><line x1="674" y1="493.6" x2="674" y2="529.1" stroke="#1a1a1a" stroke-width="1"/><line x1="683.1" y1="493.6" x2="683.1" y2="529.1" stroke="#1a1a1a" stroke-width="1"/><line x1="692.4" y1="493.6" x2="692.4" y2="529.1" stroke="#1a1a1a" stroke-width="1"/><line x1="702.1" y1="493.6" x2="702.1" y2="529.1" stroke="#1a1a1a" stroke-width="1"/><line x1="711.2" y1="493.6" x2="711.2" y2="529.1" stroke="#1a1a1a" stroke-width="1"/><line x1="720.9" y1="493.6" x2="720.9" y2="529.1" stroke="#1a1a1a" stroke-width="1"/><line x1="655" y1="511.1" x2="729.6" y2="511.1" stroke="#1a1a1a" stroke-width="1"/><line x1="663.7" y1="534.4" x2="663.7" y2="569.8" stroke="#1a1a1a" stroke-width="1"/><line x1="674" y1="534.4" x2="674" y2="569.8" stroke="#1a1a1a" stroke-width="1"/><line x1="683.1" y1="534.4" x2="683.1" y2="569.8" stroke="#1a1a1a" stroke-width="1"/><line x1="692.4" y1="534.4" x2="692.4" y2="569.8" stroke="#1a1a1a" stroke-width="1"/><line x1="702.1" y1="534.4" x2="702.1" y2="569.8" stroke="#1a1a1a" stroke-width="1"/><line x1="711.2" y1="534.4" x2="711.2" y2="569.8" stroke="#1a1a1a" stroke-width="1"/><line x1="720.9" y1="534.4" x2="720.9" y2="569.8" stroke="#1a1a1a" stroke-width="1"/><line x1="663.7" y1="552.4" x2="729.6" y2="552.4" stroke="#1a1a1a" stroke-width="1"/><line x1="729.6" y1="487.8" x2="729.6" y2="569.8" stroke="#1a1a1a" stroke-width="1"/><polyline points="735,511.1 749,511.1 749,551.4 729.6,551.4" stroke="#1a1a1a" stroke-width="1" fill="none"/><polygon points="721,511.1 715,507.9 715,514.3" fill="#111"/><polygon points="731,511.1 737,507.9 737,514.3" fill="#111"/><g transform="rotate(38 574 630.3)"><rect x="564.5" y="627.3" width="19" height="6" fill="#3a86c8"/><rect x="566" y="628.7" width="16" height="3.2" fill="#eaf4fc"/><line x1="566" y1="630.3" x2="582" y2="630.3" stroke="#3a86c8" stroke-width="0.9"/></g><rect x="552.5" y="877.2" width="205.5" height="5" fill="#5fbf7f"/><line x1="552.5" y1="879.7" x2="758" y2="879.7" stroke="#e8f7ee" stroke-width="1"/><rect x="459.7" y="342.2" width="25.2" height="30.6" rx="0" stroke="#1a1a1a" stroke-width="1" fill="none"/><line x1="472.6" y1="342.2" x2="472.6" y2="372.8" stroke="#1a1a1a" stroke-width="1"/><rect x="461" y="372.8" width="23.9" height="21.5" rx="0" stroke="#1a1a1a" stroke-width="1" fill="none"/><rect x="481.8" y="373" width="2.8" height="21" fill="#777"/><rect x="463" y="400.5" width="19.4" height="31.7" rx="0" stroke="#1a1a1a" stroke-width="1.2" fill="none"/><line x1="463" y1="416.4" x2="482.4" y2="416.4" stroke="#1a1a1a" stroke-width="1.2"/><rect x="465.5" y="402.8" width="14.5" height="11.5" rx="0" stroke="#1a1a1a" stroke-width="0.7" fill="none"/><rect x="465.5" y="418.5" width="14.5" height="11.5" rx="0" stroke="#1a1a1a" stroke-width="0.7" fill="none"/><circle cx="472.7" cy="408.5" r="0.9" fill="#222"/><circle cx="472.7" cy="424.3" r="0.9" fill="#222"/><polyline points="484.9,395 484.9,445.4 606.6,445.4" stroke="#1a1a1a" stroke-width="1" fill="none"/><polyline points="459.7,445.4 472.6,445.4 472.6,457.7 591,457.7" stroke="#1a1a1a" stroke-width="1" fill="none"/><line x1="591" y1="445.4" x2="591" y2="469.7" stroke="#1a1a1a" stroke-width="1"/><rect x="525.2" y="447.3" width="24.5" height="20" rx="0" stroke="#1a1a1a" stroke-width="1" fill="#fff"/><rect x="528.3" y="448.6" width="6.6" height="16.4" rx="0" stroke="#1a1a1a" stroke-width="0.8" fill="#1a1a1a"/><rect x="540" y="448.6" width="6.6" height="16.4" rx="0" stroke="#1a1a1a" stroke-width="0.8" fill="#1a1a1a"/><circle cx="531.6" cy="453.3" r="2.1" fill="none" stroke="#ddd" stroke-width="0.8"/><circle cx="531.6" cy="453.3" r="0.7" fill="#ddd"/><circle cx="531.6" cy="460.3" r="2.1" fill="none" stroke="#ddd" stroke-width="0.8"/><circle cx="531.6" cy="460.3" r="0.7" fill="#ddd"/><circle cx="543.3" cy="453.3" r="2.1" fill="none" stroke="#ddd" stroke-width="0.8"/><circle cx="543.3" cy="453.3" r="0.7" fill="#ddd"/><circle cx="543.3" cy="460.3" r="2.1" fill="none" stroke="#ddd" stroke-width="0.8"/><circle cx="543.3" cy="460.3" r="0.7" fill="#ddd"/><rect x="517.6" y="339" width="23.9" height="63.1" rx="0" stroke="#1a1a1a" stroke-width="1" fill="none"/><rect x="579.4" y="315.6" width="26.2" height="32.7" rx="0" stroke="#1a1a1a" stroke-width="1" fill="none"/><rect x="575.9" y="348.3" width="29.7" height="36.8" rx="0" stroke="#1a1a1a" stroke-width="1" fill="#fff"/><line x1="577.5" y1="349.5" x2="577.5" y2="384" stroke="#1a1a1a" stroke-width="0.8"/><polygon points="526.3,622 551,623.7 548.3,647.3" fill="#e31b1b"/><polyline points="661,608.6 691.8,608.6 691.8,624.5 699,624.5" stroke="#1a1a1a" stroke-width="1" fill="none"/><circle cx="675" cy="619" r="8" fill="#fff" stroke="#222" stroke-width="1.1"/><rect x="674.3" y="619" width="1.4" height="8" fill="#222"/><path d="M699,630.9 V607 A8,8.5 0 0 1 715,607 V630.9" fill="none" stroke="#222" stroke-width="0.9"/><rect x="699" y="624.5" width="16" height="6.4" rx="0" stroke="#1a1a1a" stroke-width="1" fill="none"/><path d="M592.3,480.6 L568.7,499" stroke="#2f9254" stroke-width="1.6" fill="none" stroke-linecap="round"/><path d="M568.7,499 A29.96,29.96 0 0 0 591.9,510.6" stroke="#2f9254" stroke-width="1.2" fill="none"/><path d="M545.2,596.1 L580,595.1" stroke="#2f9254" stroke-width="1.6" fill="none" stroke-linecap="round"/><path d="M580,595.1 A35.51,35.51 0 0 1 570.8,621.7" stroke="#2f9254" stroke-width="1.2" fill="none"/><path d="M650.7,604.7 L631.7,582.4" stroke="#2f9254" stroke-width="1.6" fill="none" stroke-linecap="round"/><path d="M631.7,582.4 A29.96,29.96 0 0 0 620.1,605.7" stroke="#2f9254" stroke-width="1.2" fill="none"/><path d="M660.8,575.6 L682.1,594" stroke="#2f9254" stroke-width="1.6" fill="none" stroke-linecap="round"/><path d="M682.1,594 A28.65,28.65 0 0 1 662.7,604.7" stroke="#2f9254" stroke-width="1.2" fill="none"/><path d="M765,631 L746,607.6" stroke="#2f9254" stroke-width="1.6" fill="none" stroke-linecap="round"/><path d="M746,607.6 A29.87,29.87 0 0 0 735.4,631" stroke="#2f9254" stroke-width="1.2" fill="none"/><path d="M543.5,867 L569.7,844.5" stroke="#2f9254" stroke-width="1.6" fill="none" stroke-linecap="round"/><path d="M569.7,844.5 A34.12,34.12 0 0 0 543.5,833.3" stroke="#2f9254" stroke-width="1.2" fill="none"/><rect x="1012.4" y="427.7" width="38.6" height="6.1" rx="0" stroke="#1a1a1a" stroke-width="1" fill="#fff"/><line x1="1018" y1="429.8" x2="1051" y2="429.8" stroke="#2f9254" stroke-width="1"/><line x1="1018" y1="431.5" x2="1051" y2="431.5" stroke="#2f9254" stroke-width="1"/><rect x="825.5" y="204.7" width="118.4" height="6.4" fill="#6f9cc8"/><rect x="825.5" y="206.07" width="118.4" height="1.1" rx="0" stroke="none" stroke-width="1" fill="#d6f3fc"/><rect x="825.5" y="208.63" width="118.4" height="1.1" rx="0" stroke="none" stroke-width="1" fill="#d6f3fc"/><rect x="882.7" y="204.7" width="4" height="6.4" rx="0" stroke="none" stroke-width="1" fill="#3f7fc0"/><rect x="792.5" y="212.2" width="6.5" height="38.3" fill="#6f9cc8"/><rect x="793.9" y="212.2" width="1.1" height="38.3" rx="0" stroke="none" stroke-width="1" fill="#d6f3fc"/><rect x="796.5" y="212.2" width="1.1" height="38.3" rx="0" stroke="none" stroke-width="1" fill="#d6f3fc"/><rect x="792.5" y="229.35" width="6.5" height="4" rx="0" stroke="none" stroke-width="1" fill="#3f7fc0"/><rect x="1001" y="228.5" width="68.8" height="6" fill="#6f9cc8"/><rect x="1001" y="229.75" width="68.8" height="1.1" rx="0" stroke="none" stroke-width="1" fill="#d6f3fc"/><rect x="1001" y="232.15" width="68.8" height="1.1" rx="0" stroke="none" stroke-width="1" fill="#d6f3fc"/><rect x="1033.4" y="228.5" width="4" height="6" rx="0" stroke="none" stroke-width="1" fill="#3f7fc0"/><rect x="818.4" y="570" width="37.8" height="6.2" fill="#6f9cc8"/><rect x="818.4" y="571.31" width="37.8" height="1.1" rx="0" stroke="none" stroke-width="1" fill="#d6f3fc"/><rect x="818.4" y="573.79" width="37.8" height="1.1" rx="0" stroke="none" stroke-width="1" fill="#d6f3fc"/><rect x="835.3" y="570" width="4" height="6.2" rx="0" stroke="none" stroke-width="1" fill="#3f7fc0"/><rect x="799" y="383.6" width="66.2" height="10.1" rx="0" stroke="#1a1a1a" stroke-width="1" fill="none"/><line x1="799" y1="388.6" x2="865.2" y2="388.6" stroke="#1a1a1a" stroke-width="1"/><line x1="805" y1="393.7" x2="805" y2="464.9" stroke="#1a1a1a" stroke-width="1"/><line x1="809.9" y1="393.7" x2="809.9" y2="464.9" stroke="#1a1a1a" stroke-width="1"/><line x1="809.9" y1="454" x2="879.9" y2="454" stroke="#1a1a1a" stroke-width="1"/><line x1="809.9" y1="459.2" x2="879.9" y2="459.2" stroke="#1a1a1a" stroke-width="1"/><line x1="1048.5" y1="416.4" x2="1105.9" y2="416.4" stroke="#1a1a1a" stroke-width="1"/><line x1="1048.5" y1="421" x2="1105.9" y2="421" stroke="#1a1a1a" stroke-width="1"/><path d="M805.8,477 V492 A7.45,8 0 0 0 820.7,492 V477" fill="none" stroke="#222" stroke-width="0.9"/><rect x="805.8" y="471.2" width="14.9" height="5.8" rx="0" stroke="#1a1a1a" stroke-width="1" fill="none"/><rect x="827.5" y="471.2" width="58.1" height="22" rx="0" stroke="#1a1a1a" stroke-width="1" fill="none"/><rect x="832.5" y="474.4" width="19.2" height="14.2" rx="0" stroke="#1a1a1a" stroke-width="1.6" fill="none"/><rect x="841.3" y="476" width="1.4" height="3" fill="#222"/><circle cx="842" cy="482" r="0.8" fill="#222"/><line x1="799" y1="522.5" x2="920.1" y2="522.5" stroke="#1a1a1a" stroke-width="1"/><ellipse cx="838.1" cy="544.3" rx="33.3" ry="20.6" fill="#fff" stroke="#111" stroke-width="1.6"/><path d="M858,538 l4.5,-4.5 M860.5,534.5 l2.5,2.5 M856.5,535 l2.5,2.5" stroke="#111" stroke-width="1.3"/><line x1="877.2" y1="522.5" x2="877.2" y2="570" stroke="#1a1a1a" stroke-width="1"/><line x1="877.2" y1="522.5" x2="920.1" y2="570" stroke="#1a1a1a" stroke-width="0.8"/><line x1="920.1" y1="522.5" x2="877.2" y2="570" stroke="#1a1a1a" stroke-width="0.8"/><circle cx="915.3" cy="546.4" r="1.5" fill="none" stroke="#222" stroke-width="0.8"/><rect x="927.4" y="514.2" width="22.6" height="21.9" rx="1.5" stroke="#1a1a1a" stroke-width="1.1" fill="none"/><rect x="927.4" y="542.9" width="22.6" height="22.6" rx="1.5" stroke="#1a1a1a" stroke-width="1.1" fill="none"/><rect x="1012.4" y="468.4" width="28.2" height="20.3" rx="0" stroke="#1a1a1a" stroke-width="1" fill="none"/><rect x="1016.5" y="471.5" width="20" height="14" rx="0" stroke="#1a1a1a" stroke-width="1.6" fill="none"/><circle cx="1026.5" cy="476.5" r="0.8" fill="#222"/><rect x="1025.8" y="480" width="1.4" height="5.5" fill="#222"/><path d="M1049.7,488.7 V469 A7.9,8.5 0 0 1 1065.5,469 V488.7" fill="none" stroke="#222" stroke-width="0.9"/><rect x="1049.7" y="482.5" width="15.8" height="6.2" rx="0" stroke="#1a1a1a" stroke-width="1" fill="none"/><rect x="1075.7" y="433.8" width="30.3" height="54.9" rx="0" stroke="#1a1a1a" stroke-width="1" fill="none"/><rect x="1077.5" y="436.5" width="26.5" height="50" rx="4" stroke="#1a1a1a" stroke-width="1" fill="none"/><circle cx="1090.5" cy="477.5" r="1.6" fill="none" stroke="#222" stroke-width="0.8"/><line x1="1090.5" y1="479.5" x2="1090.5" y2="486" stroke="#222" stroke-width="1.2"/><line x1="1012.4" y1="494.8" x2="1012.4" y2="528.3" stroke="#1a1a1a" stroke-width="1"/><line x1="1021.4" y1="494.8" x2="1021.4" y2="528.3" stroke="#1a1a1a" stroke-width="1"/><line x1="1030.5" y1="494.8" x2="1030.5" y2="528.3" stroke="#1a1a1a" stroke-width="1"/><line x1="1040" y1="494.8" x2="1040" y2="528.3" stroke="#1a1a1a" stroke-width="1"/><line x1="1049.7" y1="494.8" x2="1049.7" y2="528.3" stroke="#1a1a1a" stroke-width="1"/><line x1="1059.4" y1="494.8" x2="1059.4" y2="528.3" stroke="#1a1a1a" stroke-width="1"/><line x1="1068.9" y1="494.8" x2="1068.9" y2="528.3" stroke="#1a1a1a" stroke-width="1"/><line x1="1006.7" y1="494.8" x2="1006.7" y2="533.3" stroke="#1a1a1a" stroke-width="1"/><rect x="1006.7" y="528.3" width="63.3" height="5" rx="0" stroke="#1a1a1a" stroke-width="1" fill="#fff"/><line x1="1006.7" y1="511.3" x2="1088.1" y2="511.3" stroke="#1a1a1a" stroke-width="1"/><polyline points="1068.9,511.3 1088.1,511.3 1088.1,550.9 1017,550.9" stroke="#1a1a1a" stroke-width="1" fill="none"/><polygon points="1012,550.9 1018,547.7 1018,554.1" fill="#111"/><line x1="1011.2" y1="533.3" x2="1011.2" y2="570" stroke="#1a1a1a" stroke-width="1"/><line x1="1021.4" y1="533.3" x2="1021.4" y2="570" stroke="#1a1a1a" stroke-width="1"/><line x1="1030.5" y1="533.3" x2="1030.5" y2="570" stroke="#1a1a1a" stroke-width="1"/><line x1="1040" y1="533.3" x2="1040" y2="570" stroke="#1a1a1a" stroke-width="1"/><line x1="1049.7" y1="533.3" x2="1049.7" y2="570" stroke="#1a1a1a" stroke-width="1"/><line x1="1059.4" y1="533.3" x2="1059.4" y2="570" stroke="#1a1a1a" stroke-width="1"/><line x1="1068.9" y1="533.3" x2="1068.9" y2="570" stroke="#1a1a1a" stroke-width="1"/><path d="M885.6,437.8 L907,419.7" stroke="#2f9254" stroke-width="1.6" fill="none" stroke-linecap="round"/><path d="M907,419.7 A27.81,27.81 0 0 0 885.6,410.2" stroke="#2f9254" stroke-width="1.2" fill="none"/><path d="M918.3,460.4 L899.1,481.9" stroke="#2f9254" stroke-width="1.6" fill="none" stroke-linecap="round"/><path d="M899.1,481.9 A29.06,29.06 0 0 1 889,460.4" stroke="#2f9254" stroke-width="1.2" fill="none"/><path d="M973.3,403 L944.8,400.5" stroke="#2f9254" stroke-width="1.6" fill="none" stroke-linecap="round"/><path d="M944.8,400.5 A28.63,28.63 0 0 0 953.4,423.6" stroke="#2f9254" stroke-width="1.2" fill="none"/><path d="M941.5,435.4 L939.4,418.2" stroke="#2f9254" stroke-width="1.6" fill="none" stroke-linecap="round"/><path d="M939.4,418.2 A17.04,17.04 0 0 1 953.4,423.6" stroke="#2f9254" stroke-width="1.2" fill="none"/><path d="M985.7,403 L1015.8,400" stroke="#2f9254" stroke-width="1.6" fill="none" stroke-linecap="round"/><path d="M1015.8,400 A30.01,30.01 0 0 1 1007.2,423.6" stroke="#2f9254" stroke-width="1.2" fill="none"/><path d="M1012.4,434.5 L1032.7,455.9" stroke="#2f9254" stroke-width="1.6" fill="none" stroke-linecap="round"/><path d="M1032.7,455.9 A28.31,28.31 0 0 1 1013.5,461.6" stroke="#2f9254" stroke-width="1.2" fill="none"/><path d="M965.5,498 L987.5,478.5" stroke="#2f9254" stroke-width="1.6" fill="none" stroke-linecap="round"/><path d="M987.5,478.5 A28.95,28.95 0 0 0 966,469.5" stroke="#2f9254" stroke-width="1.2" fill="none"/><path d="M965.8,508.5 L991.7,523.1" stroke="#2f9254" stroke-width="1.6" fill="none" stroke-linecap="round"/><path d="M991.7,523.1 A29.67,29.67 0 0 1 965.8,538.1" stroke="#2f9254" stroke-width="1.2" fill="none"/><path d="M965.8,568.3 L991.7,553.2" stroke="#2f9254" stroke-width="1.6" fill="none" stroke-linecap="round"/><path d="M991.7,553.2 A30.09,30.09 0 0 0 965.8,538.1" stroke="#2f9254" stroke-width="1.2" fill="none"/><path d="M1048.7,389 L1045.3,359.6" stroke="#2f9254" stroke-width="1.6" fill="none" stroke-linecap="round"/><path d="M1045.3,359.6 A29.41,29.41 0 0 1 1068.5,367.5" stroke="#2f9254" stroke-width="1.2" fill="none"/><polygon points="269.5,81 266.1,84.6 272.9,84.6" fill="#9a9a9a"/><polygon points="113.3,119 116.9,115.6 116.9,122.4" fill="#9a9a9a"/><polygon points="425.4,119 421.8,115.6 421.8,122.4" fill="#9a9a9a"/><polygon points="269.5,156.6 266.1,153 272.9,153" fill="#9a9a9a"/><polygon points="195.2,164.6 191.8,168.2 198.6,168.2" fill="#9a9a9a"/><polygon points="349.8,164.6 346.4,168.2 353.2,168.2" fill="#9a9a9a"/><polygon points="118.5,278.5 122.1,275.1 122.1,281.9" fill="#9a9a9a"/><polygon points="271.9,278.5 268.3,275.1 268.3,281.9" fill="#9a9a9a"/><polygon points="280,278.5 283.6,275.1 283.6,281.9" fill="#9a9a9a"/><polygon points="420.9,278.5 417.3,275.1 417.3,281.9" fill="#9a9a9a"/><polygon points="194.8,413 191.4,409.4 198.2,409.4" fill="#9a9a9a"/><polygon points="171.2,420.6 167.8,424.2 174.6,424.2" fill="#9a9a9a"/><polygon points="250,447.5 253.6,444.1 253.6,450.9" fill="#9a9a9a"/><polygon points="312.3,446 308.7,442.6 308.7,449.4" fill="#9a9a9a"/><polygon points="281,405 277.6,408.6 284.4,408.6" fill="#9a9a9a"/><polygon points="281,496.5 277.6,492.9 284.4,492.9" fill="#9a9a9a"/><polygon points="349.8,392.6 346.4,389 353.2,389" fill="#9a9a9a"/><polygon points="392.4,392.6 389,389 395.8,389" fill="#9a9a9a"/><polygon points="392.4,337.2 389,340.8 395.8,340.8" fill="#9a9a9a"/><polygon points="364,367.8 367.6,364.4 367.6,371.2" fill="#9a9a9a"/><polygon points="420.9,367.8 417.3,364.4 417.3,371.2" fill="#9a9a9a"/><polygon points="369.8,399.4 366.4,403 373.2,403" fill="#9a9a9a"/><polygon points="369.8,456.4 366.4,452.8 373.2,452.8" fill="#9a9a9a"/><polygon points="320,426.6 323.6,423.2 323.6,430" fill="#9a9a9a"/><polygon points="420.9,428.2 417.3,424.8 417.3,431.6" fill="#9a9a9a"/><polygon points="127.2,492.7 130.8,489.3 130.8,496.1" fill="#9a9a9a"/><polygon points="242.5,492.7 238.9,489.3 238.9,496.1" fill="#9a9a9a"/><polygon points="169,568.5 165.6,564.9 172.4,564.9" fill="#9a9a9a"/><polygon points="127.2,540.5 130.8,537.1 130.8,543.9" fill="#9a9a9a"/><polygon points="307.8,503.6 304.4,507.2 311.2,507.2" fill="#9a9a9a"/><polygon points="307.8,599.2 304.4,595.6 311.2,595.6" fill="#9a9a9a"/><polygon points="420.9,548.6 417.3,545.2 417.3,552" fill="#9a9a9a"/><polygon points="631.6,108.7 628.2,112.3 635,112.3" fill="#9a9a9a"/><polygon points="458.2,146.8 461.8,143.4 461.8,150.2" fill="#9a9a9a"/><polygon points="770.9,146.8 767.3,143.4 767.3,150.2" fill="#9a9a9a"/><polygon points="629.5,185 626.1,181.4 632.9,181.4" fill="#9a9a9a"/><polygon points="532,164.7 528.6,168.3 535.4,168.3" fill="#9a9a9a"/><polygon points="691.7,192.6 688.3,196.2 695.1,196.2" fill="#9a9a9a"/><polygon points="460.3,240 463.9,236.6 463.9,243.4" fill="#9a9a9a"/><polygon points="605.8,238 602.2,234.6 602.2,241.4" fill="#9a9a9a"/><polygon points="612.8,282.4 616.4,279 616.4,285.8" fill="#9a9a9a"/><polygon points="769.4,282.4 765.8,279 765.8,285.8" fill="#9a9a9a"/><polygon points="605.8,430 602.2,426.6 602.2,433.4" fill="#9a9a9a"/><polygon points="612.8,430 616.4,426.6 616.4,433.4" fill="#9a9a9a"/><polygon points="769.4,430 765.8,426.6 765.8,433.4" fill="#9a9a9a"/><polygon points="511.9,477.1 508.5,480.7 515.3,480.7" fill="#9a9a9a"/><polygon points="460.3,530.1 463.9,526.7 463.9,533.5" fill="#9a9a9a"/><polygon points="591.5,530.1 587.9,526.7 587.9,533.5" fill="#9a9a9a"/><polygon points="512.8,606.8 509.4,603.2 516.2,603.2" fill="#9a9a9a"/><polygon points="691.4,487.2 688,483.6 694.8,483.6" fill="#9a9a9a"/><polygon points="655.2,637 651.8,640.6 658.6,640.6" fill="#9a9a9a"/><polygon points="691.4,630.3 688,626.7 694.8,626.7" fill="#9a9a9a"/><polygon points="661.5,604.7 665.1,601.3 665.1,608.1" fill="#9a9a9a"/><polygon points="720.3,604.7 716.7,601.3 716.7,608.1" fill="#9a9a9a"/><polygon points="691.4,576.4 688,580 694.8,580" fill="#9a9a9a"/><polygon points="544.2,757.5 547.8,754.1 547.8,760.9" fill="#9a9a9a"/><polygon points="769.2,755.7 765.6,752.3 765.6,759.1" fill="#9a9a9a"/><polygon points="655.2,876.1 651.8,872.5 658.6,872.5" fill="#9a9a9a"/><polygon points="909.4,211.8 906,215.4 912.8,215.4" fill="#9a9a9a"/><polygon points="799.6,302.6 803.2,299.2 803.2,306" fill="#9a9a9a"/><polygon points="962.7,302.6 959.1,299.2 959.1,306" fill="#9a9a9a"/><polygon points="970.4,330.6 974,327.2 974,334" fill="#9a9a9a"/><polygon points="1037.8,235.2 1034.4,238.8 1041.2,238.8" fill="#9a9a9a"/><polygon points="1105.3,331.3 1101.7,327.9 1101.7,334.7" fill="#9a9a9a"/><polygon points="1074.7,370.3 1071.3,373.9 1078.1,373.9" fill="#9a9a9a"/><polygon points="839.2,384.3 835.8,387.9 842.6,387.9" fill="#9a9a9a"/><polygon points="799.6,424.2 803.2,420.8 803.2,427.6" fill="#9a9a9a"/><polygon points="879.3,424.2 875.7,420.8 875.7,427.6" fill="#9a9a9a"/><polygon points="839.2,464.3 835.8,460.7 842.6,460.7" fill="#9a9a9a"/><polygon points="896.9,452.5 893.5,448.9 900.3,448.9" fill="#9a9a9a"/><polygon points="896.9,461.5 893.5,465.1 900.3,465.1" fill="#9a9a9a"/><polygon points="799.6,514.6 803.2,511.2 803.2,518" fill="#9a9a9a"/><polygon points="919.5,514.6 915.9,511.2 915.9,518" fill="#9a9a9a"/><polygon points="894.6,569.4 891.2,565.8 898,565.8" fill="#9a9a9a"/><polygon points="964.7,483 968.3,479.6 968.3,486.4" fill="#9a9a9a"/><polygon points="1037.2,427.1 1033.8,423.5 1040.6,423.5" fill="#9a9a9a"/><polygon points="1049.1,398.3 1052.7,394.9 1052.7,401.7" fill="#9a9a9a"/><polygon points="1105.3,398.3 1101.7,394.9 1101.7,401.7" fill="#9a9a9a"/><polygon points="1076.8,427.1 1073.4,423.5 1080.2,423.5" fill="#9a9a9a"/><polygon points="1058.7,434.4 1055.3,438 1062.1,438" fill="#9a9a9a"/><polygon points="1058.7,488.1 1055.3,484.5 1062.1,484.5" fill="#9a9a9a"/><polygon points="1013,460.5 1016.6,457.1 1016.6,463.9" fill="#9a9a9a"/><polygon points="1105.3,460.5 1101.7,457.1 1101.7,463.9" fill="#9a9a9a"/><polygon points="1006.1,487.1 1002.5,483.7 1002.5,490.5" fill="#9a9a9a"/><polygon points="986.4,569.4 983,565.8 989.8,565.8" fill="#9a9a9a"/><polygon points="529,312 535,312 532,315.6 535,319.2 529,319.2 532,315.6" fill="#9a9a9a"/><polygon points="687.9,370 693.9,370 690.9,373.6 693.9,377.2 687.9,377.2 690.9,373.6" fill="#9a9a9a"/><text x="16.8" y="30.6" font-size="27" font-weight="bold" fill="#111" stroke="#111" stroke-width="0.45" textLength="385.5" lengthAdjust="spacingAndGlyphs">87 2979 Panorama Dr Coquitlam</text><text x="1122.4" y="24.3" font-size="15" font-weight="bold" fill="#111" textLength="21.2" lengthAdjust="spacingAndGlyphs">REV</text><text x="1151.6" y="24.3" font-size="15" font-weight="bold" fill="#111" textLength="38.8" lengthAdjust="spacingAndGlyphs">STUDIO</text><text x="1122.3" y="35" font-size="7.4" fill="#8a8a8a" textLength="68.3" lengthAdjust="spacingAndGlyphs">PHOTOGRAPHY</text><text x="268.9" y="115.7" font-size="11.3" text-anchor="middle" fill="#1e1e1e">COVERED PATIO</text><text x="268.9" y="126.2" font-size="11.3" text-anchor="middle" fill="#1e1e1e">27'6" x 6'9"</text><g><text x="216.5" y="448" font-size="9" text-anchor="middle" fill="#1e1e1e" font-weight="normal">WH</text></g><g><text x="227.4" y="492.6" font-size="9.2" text-anchor="middle" fill="#1e1e1e" font-weight="normal">HVAC</text></g><g><text x="137.8" y="544" font-size="9.2" text-anchor="middle" fill="#1e1e1e" font-weight="normal">FR</text></g><text x="195.9" y="280.4" font-size="11.3" text-anchor="middle" fill="#1e1e1e">FAMILY ROOM</text><text x="195.9" y="293.1" font-size="11.3" text-anchor="middle" fill="#1e1e1e">13'6" x 21'10"</text><text x="350.7" y="271.2" font-size="11.3" text-anchor="middle" fill="#1e1e1e">BEDROOM</text><text x="350.7" y="283.1" font-size="11.3" text-anchor="middle" fill="#1e1e1e">12'5" x 20'</text><text x="391.1" y="363.1" font-size="11.3" text-anchor="middle" fill="#1e1e1e">W.I.C</text><text x="390.3" y="375.1" font-size="11.3" text-anchor="middle" fill="#1e1e1e">5' x 4'10"</text><text x="356.5" y="414.3" font-size="11.3" text-anchor="middle" fill="#1e1e1e">BATH</text><text x="355.8" y="426.4" font-size="11.3" text-anchor="middle" fill="#1e1e1e">8'11" x 5'1"</text><text x="282.9" y="444.65" font-size="11.3" text-anchor="middle" fill="#1e1e1e">HALL</text><text x="282.5" y="456.2" font-size="11.3" text-anchor="middle" fill="#1e1e1e">5'7" x 8'6"</text><text x="181.6" y="472.1" font-size="11.3" text-anchor="middle" fill="#1e1e1e">UTILITY ROOM</text><text x="181.6" y="481.7" font-size="11.3" text-anchor="middle" fill="#1e1e1e">10'2" x 13'1"</text><g><text x="341.5" y="524" font-size="8.6" text-anchor="middle" fill="#1e1e1e" font-weight="normal">CL</text></g><text x="310.25" y="563.9" font-size="11.3" text-anchor="middle" fill="#1e1e1e">STORAGE</text><text x="310.25" y="574.4" font-size="11.3" text-anchor="middle" fill="#1e1e1e">19'9" x 8'7"</text><text x="616" y="130.2" font-size="11.3" text-anchor="middle" fill="#1e1e1e">BALCONY</text><text x="616" y="141.65" font-size="11.3" text-anchor="middle" fill="#1e1e1e">27'2" x 6'9"</text><g><text x="474" y="387" font-size="9.8" text-anchor="middle" fill="#1e1e1e" font-weight="normal">DW</text></g><g><text x="592.5" y="370.8" font-size="9.6" text-anchor="middle" fill="#1e1e1e" font-weight="normal">FR</text></g><text x="536.2" y="237.1" font-size="11.3" text-anchor="middle" fill="#1e1e1e">DINING ROOM</text><text x="536.2" y="248.9" font-size="11.3" text-anchor="middle" fill="#1e1e1e">12'9" x 13'4"</text><text x="694.2" y="277.5" font-size="11.3" text-anchor="middle" fill="#1e1e1e">LIVING ROOM</text><text x="694.2" y="288.5" font-size="11.3" text-anchor="middle" fill="#1e1e1e">13'9" x 15'10"</text><text x="534.7" y="418.9" font-size="11.3" text-anchor="middle" fill="#1e1e1e">KITCHEN</text><text x="534.7" y="430.3" font-size="11.3" text-anchor="middle" fill="#1e1e1e">12'9" x 13'5"</text><text x="691.5" y="413.9" font-size="11.3" text-anchor="middle" fill="#1e1e1e">DINING ROOM</text><text x="691.5" y="425.9" font-size="11.3" text-anchor="middle" fill="#1e1e1e">13'9" x 9'11"</text><text x="525.9" y="525.6" font-size="11.3" text-anchor="middle" fill="#1e1e1e">OFFICE</text><text x="525.9" y="537.1" font-size="11.3" text-anchor="middle" fill="#1e1e1e">11'6" x 11'4"</text><text x="613.6" y="564.5" font-size="11.3" text-anchor="middle" fill="#1e1e1e">FOYER</text><text x="613.6" y="575.4" font-size="11.3" text-anchor="middle" fill="#1e1e1e">9'6" x 13'1"</text><text x="691.3" y="589.2" font-size="11.3" text-anchor="middle" fill="#1e1e1e">BATH</text><text x="691.3" y="598" font-size="11.3" text-anchor="middle" fill="#1e1e1e">5'2" x 4'10"</text><g><text x="631.3" y="626.4" font-size="11.7" text-anchor="middle" fill="#1e1e1e" font-weight="normal">CLOSET</text></g><text x="660.8" y="758.6" font-size="11.3" text-anchor="middle" fill="#1e1e1e">GARAGE</text><text x="661.3" y="769.6" font-size="11.3" text-anchor="middle" fill="#1e1e1e">19'8" x 21'</text><text x="531.2" y="640.9" font-size="10.6" text-anchor="middle" dominant-baseline="central" fill="#1e1e1e" transform="rotate(45.5 531.2 640.9)">ENTRY</text><g><text x="938.7" y="528.2" font-size="9.2" text-anchor="middle" fill="#1e1e1e" font-weight="normal">W</text></g><g><text x="938.2" y="557.6" font-size="9.2" text-anchor="middle" fill="#1e1e1e" font-weight="normal">D</text></g><text x="882.5" y="303.2" font-size="11.3" text-anchor="middle" fill="#1e1e1e">PRIMARY BEDROOM</text><text x="882.5" y="312.8" font-size="11.3" text-anchor="middle" fill="#1e1e1e">14'4" x 21'2"</text><text x="1037.6" y="316.15" font-size="11.3" text-anchor="middle" fill="#1e1e1e">BEDROOM</text><text x="1037.75" y="326.3" font-size="11.3" text-anchor="middle" fill="#1e1e1e">11'10" x 16'10"</text><text x="843.4" y="422.6" font-size="11.3" text-anchor="middle" fill="#1e1e1e">W.I.C</text><text x="843.8" y="432.5" font-size="11.3" text-anchor="middle" fill="#1e1e1e">7'1" x 7'1"</text><text x="1077.6" y="399.8" font-size="11.3" text-anchor="middle" fill="#1e1e1e">W.I.C</text><text x="1076.3" y="410.1" font-size="11.3" text-anchor="middle" fill="#1e1e1e">4'11" x 5'3"</text><text x="1041.9" y="450.6" font-size="11.3" text-anchor="middle" fill="#1e1e1e">BATH</text><text x="1041.6" y="460.5" font-size="11.3" text-anchor="middle" fill="#1e1e1e">8'1" x 4'10"</text><text x="849.3" y="510.4" font-size="11.3" text-anchor="middle" fill="#1e1e1e">PRIMARY BATH</text><text x="849.5" y="519.8" font-size="11.3" text-anchor="middle" fill="#1e1e1e">10'8" x 9'7"</text><g transform="rotate(90 935.8 475.6)"><text x="935.8" y="475.6" font-size="11.3" text-anchor="middle" fill="#1e1e1e" font-weight="normal">CLOSET</text></g><g transform="rotate(90 991.5 505)"><text x="991.5" y="505" font-size="11.3" text-anchor="middle" fill="#1e1e1e">HALL</text><text x="991.5" y="516" font-size="11.3" text-anchor="middle" fill="#1e1e1e">3'7" x 14'5"</text></g><text x="106.5" y="637" font-size="16" font-weight="bold" fill="#111" stroke="#111" stroke-width="0.3" textLength="177.1" lengthAdjust="spacingAndGlyphs">Lower Floor - 1032 SQ. FT</text><text x="123" y="655.3" font-size="16" font-weight="bold" fill="#111" stroke="#111" stroke-width="0.3" textLength="139.4" lengthAdjust="spacingAndGlyphs">Ceiling height - 8&#8217;0&#8221;</text><text x="346.7" y="678" font-size="16" font-weight="bold" fill="#111" stroke="#111" stroke-width="0.3" textLength="170.5" lengthAdjust="spacingAndGlyphs">Main Floor - 1088 SQ. FT</text><text x="362" y="696.7" font-size="16" font-weight="bold" fill="#111" stroke="#111" stroke-width="0.3" textLength="138.7" lengthAdjust="spacingAndGlyphs">Ceiling height - 9&#8217;0&#8221;</text><text x="794.3" y="602.7" font-size="16" font-weight="bold" fill="#111" stroke="#111" stroke-width="0.3" textLength="167.2" lengthAdjust="spacingAndGlyphs">Upper Floor - 852 SQ. FT</text><text x="808.4" y="621.4" font-size="16" font-weight="bold" fill="#111" stroke="#111" stroke-width="0.3" textLength="138.8" lengthAdjust="spacingAndGlyphs">Ceiling height - 8&#8217;0&#8221;</text><text x="40" y="822.4" font-size="13.2" font-weight="bold" text-anchor="start" fill="#111" textLength="82.4" lengthAdjust="spacingAndGlyphs">LIVING AREA</text><text x="159.6" y="822.4" font-size="13.2" font-weight="bold" text-anchor="start" fill="#111" textLength="70" lengthAdjust="spacingAndGlyphs">2972 SQ FT</text><text x="266" y="822.4" font-size="13.2" font-weight="bold" text-anchor="start" fill="#111" textLength="79.6" lengthAdjust="spacingAndGlyphs">EXTRA AREA</text><text x="391.5" y="822.4" font-size="13.2" font-weight="bold" text-anchor="start" fill="#111" textLength="62.1" lengthAdjust="spacingAndGlyphs">773 SQ FT</text><text x="24" y="851" font-size="13.2" text-anchor="start" fill="#2a2a2a">Main Floor</text><text x="163" y="851" font-size="13.2" text-anchor="start" fill="#2a2a2a" textLength="66.6" lengthAdjust="spacingAndGlyphs">1088 SQ FT</text><text x="250.6" y="851" font-size="13.2" text-anchor="start" fill="#2a2a2a">Garage</text><text x="394.6" y="851" font-size="13.2" text-anchor="start" fill="#2a2a2a" textLength="59" lengthAdjust="spacingAndGlyphs">430 SQ FT</text><text x="24" y="873" font-size="13.2" text-anchor="start" fill="#2a2a2a">Upper Floor</text><text x="170" y="873" font-size="13.2" text-anchor="start" fill="#2a2a2a" textLength="59.6" lengthAdjust="spacingAndGlyphs">852 SQ FT</text><text x="250.6" y="873" font-size="13.2" text-anchor="start" fill="#2a2a2a">Balcony</text><text x="395.2" y="873" font-size="13.2" text-anchor="start" fill="#2a2a2a" textLength="58.4" lengthAdjust="spacingAndGlyphs">161 SQ FT</text><text x="24" y="895" font-size="13.2" text-anchor="start" fill="#2a2a2a">Lower Floor</text><text x="163" y="895" font-size="13.2" text-anchor="start" fill="#2a2a2a" textLength="66.6" lengthAdjust="spacingAndGlyphs">1032 SQ FT</text><text x="250.6" y="895" font-size="13.2" text-anchor="start" fill="#2a2a2a">Covered Patio</text><text x="395.2" y="895" font-size="13.2" text-anchor="start" fill="#2a2a2a" textLength="58.4" lengthAdjust="spacingAndGlyphs">182 SQ FT</text><text x="19.5" y="921.3" font-size="10.6" text-anchor="start" fill="#222" textLength="369.5" lengthAdjust="spacingAndGlyphs">*Floor plans are intended to give a general indication of the proposed layout only.</text><text x="526.8" y="921.3" font-size="10.6" text-anchor="start" fill="#222" textLength="397.2" lengthAdjust="spacingAndGlyphs">*All dimensions are not guaranteed, not intended to form part any contract or warranty.</text><text x="1129.7" y="921.3" font-size="9.6" text-anchor="start" fill="#8c8c8c" textLength="62.3" lengthAdjust="spacingAndGlyphs">REVSTUDIO.CA</text><text x="1115.8" y="834.7" font-size="9.8" text-anchor="middle" fill="#222" textLength="66" lengthAdjust="spacingAndGlyphs">Scan Barcode for</text><text x="1115.8" y="846.8" font-size="9.8" text-anchor="middle" fill="#222" textLength="109" lengthAdjust="spacingAndGlyphs">3D Matterport Virtual Tour</text><text x="1053" y="882.8" font-size="20.5" text-anchor="end" fill="#111">3</text><text x="1124" y="882.8" font-size="20.5" text-anchor="end" fill="#111">3.5</text><text x="1187" y="882.8" font-size="20.5" text-anchor="end" fill="#111">2</text></svg>
</body></html>
